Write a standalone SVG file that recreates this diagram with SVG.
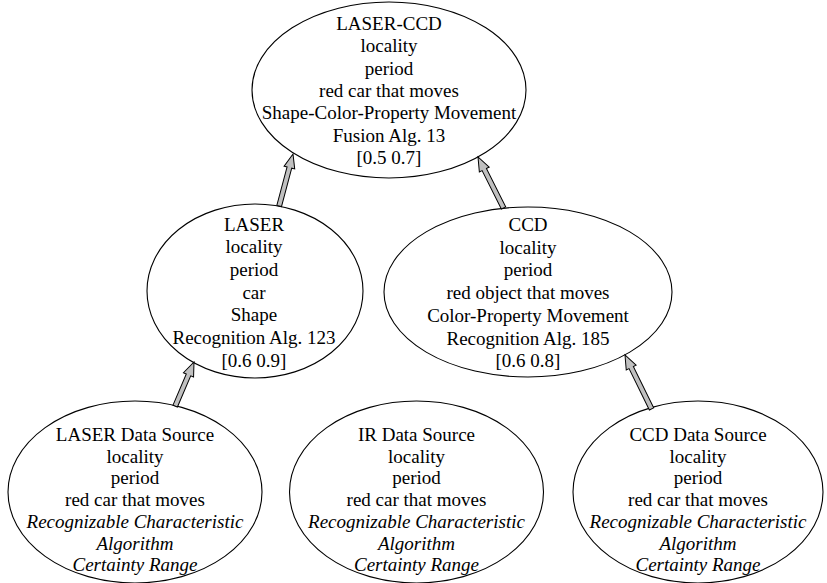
<svg xmlns="http://www.w3.org/2000/svg" width="827" height="583" viewBox="0 0 827 583">
<style>
.n ellipse{fill:#fff;stroke:#000;stroke-width:1.1}
.n text{font-family:"Liberation Serif","Times New Roman",serif;font-size:19px;fill:#000;text-anchor:middle}
.n text.i{font-style:italic}
.a path{fill:#c0c0c0;stroke:#000;stroke-width:1;stroke-linejoin:miter}
</style>
<rect width="827" height="583" fill="#fff"/>
<g id="laser-ccd" class="n">
<ellipse cx="389" cy="90" rx="137" ry="88"/>
<text x="389" y="30">LASER-CCD</text>
<text x="389" y="52.3">locality</text>
<text x="389" y="74.6">period</text>
<text x="389" y="96.9">red car that moves</text>
<text x="389" y="119.2">Shape-Color-Property Movement</text>
<text x="389" y="141.5">Fusion Alg. 13</text>
<text x="389" y="163.8">[0.5 0.7]</text>
</g>
<g id="laser" class="n">
<ellipse cx="255" cy="291" rx="108" ry="87"/>
<text x="254" y="230.6">LASER</text>
<text x="254" y="253.3">locality</text>
<text x="254" y="276">period</text>
<text x="254" y="298.7">car</text>
<text x="254" y="321.4">Shape</text>
<text x="254" y="344.1">Recognition Alg. 123</text>
<text x="254" y="366.8">[0.6 0.9]</text>
</g>
<g id="ccd" class="n">
<ellipse cx="528" cy="292" rx="144" ry="85"/>
<text x="528" y="231">CCD</text>
<text x="528" y="253.7">locality</text>
<text x="528" y="276.4">period</text>
<text x="528" y="299.1">red object that moves</text>
<text x="528" y="321.8">Color-Property Movement</text>
<text x="528" y="344.5">Recognition Alg. 185</text>
<text x="528" y="367.2">[0.6 0.8]</text>
</g>
<g id="laser-src" class="n">
<ellipse cx="135" cy="492" rx="127" ry="91"/>
<text x="135" y="441">LASER Data Source</text>
<text x="135" y="462.7">locality</text>
<text x="135" y="484.4">period</text>
<text x="135" y="506.1">red car that moves</text>
<text x="135" y="527.8" class="i">Recognizable Characteristic</text>
<text x="135" y="549.5" class="i">Algorithm</text>
<text x="135" y="571.2" class="i">Certainty Range</text>
</g>
<g id="ir-src" class="n">
<ellipse cx="416.5" cy="492" rx="127" ry="91"/>
<text x="416.5" y="441">IR Data Source</text>
<text x="416.5" y="462.7">locality</text>
<text x="416.5" y="484.4">period</text>
<text x="416.5" y="506.1">red car that moves</text>
<text x="416.5" y="527.8" class="i">Recognizable Characteristic</text>
<text x="416.5" y="549.5" class="i">Algorithm</text>
<text x="416.5" y="571.2" class="i">Certainty Range</text>
</g>
<g id="ccd-src" class="n">
<ellipse cx="698" cy="492" rx="125" ry="91"/>
<text x="698" y="441">CCD Data Source</text>
<text x="698" y="462.7">locality</text>
<text x="698" y="484.4">period</text>
<text x="698" y="506.1">red car that moves</text>
<text x="698" y="527.8" class="i">Recognizable Characteristic</text>
<text x="698" y="549.5" class="i">Algorithm</text>
<text x="698" y="571.2" class="i">Certainty Range</text>
</g>
<g id="connectors" class="a">
<path transform="translate(293,154) rotate(-75.1)" d="M-53.8,-2.4 L-14,-2.4 L-14,-5.5 L0,0 L-14,5.5 L-14,2.4 L-53.8,2.4 Z"/>
<path transform="translate(478,157) rotate(-116.6)" d="M-57,-2.4 L-14,-2.4 L-14,-5.5 L0,0 L-14,5.5 L-14,2.4 L-57,2.4 Z"/>
<path transform="translate(194,362) rotate(-66.9)" d="M-47.9,-2.4 L-14,-2.4 L-14,-5.5 L0,0 L-14,5.5 L-14,2.4 L-47.9,2.4 Z"/>
<path transform="translate(625,355) rotate(-116.2)" d="M-60.1,-2.4 L-14,-2.4 L-14,-5.5 L0,0 L-14,5.5 L-14,2.4 L-60.1,2.4 Z"/>
</g>
</svg>
